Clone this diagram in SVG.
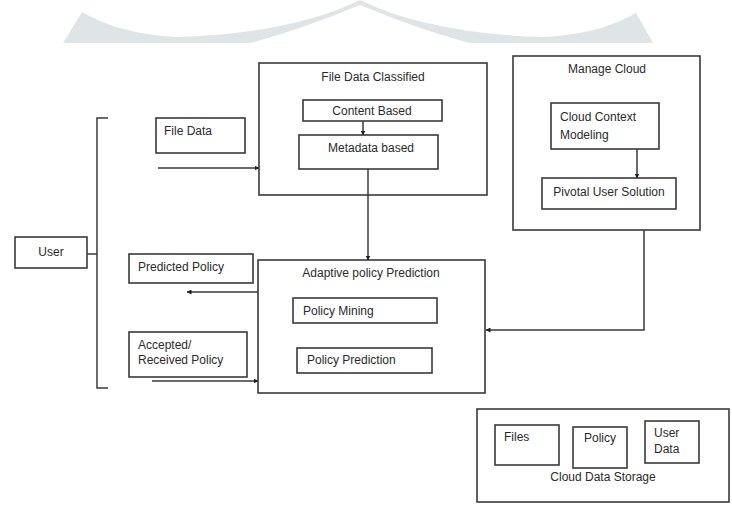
<svg xmlns="http://www.w3.org/2000/svg" width="732" height="509" viewBox="0 0 732 509">
<defs>
<style>
.box{fill:#fff;stroke:#3a3a3a;stroke-width:1.6}
.ln{fill:none;stroke:#3a3a3a;stroke-width:1.5}
text{font-family:"Liberation Sans",Arial,sans-serif;font-size:12px;fill:#2a2a2a}
.c{text-anchor:middle}
</style>
<marker id="ah" viewBox="0 0 10 10" refX="9" refY="5" markerWidth="5" markerHeight="5" orient="auto" markerUnits="userSpaceOnUse">
<path d="M0,0 L10,5 L0,10 z" fill="#222"/>
</marker>
</defs>
<rect width="732" height="509" fill="#fff"/>
<path id="watermark" d="M63,43 L82,12 Q120,34 175,37 Q290,34 360,0 Q430,34 545,37 Q600,34 636,13 L653,43 L470,43 Q420,30 360,5 Q300,30 250,43 Z" fill="#dfe4e7"/>
<g id="user"><rect class="box" x="15" y="237" width="72" height="31"/><text class="c" x="51" y="256">User</text></g>
<g id="file-data"><rect class="box" x="156" y="118" width="89" height="35"/><text x="164" y="135">File Data</text></g>
<g id="file-data-classified"><rect class="box" x="259" y="63" width="228" height="132"/><text class="c" x="373" y="81">File Data Classified</text></g>
<g id="content-based"><rect class="box" x="303" y="100" width="139" height="21"/><text class="c" x="372" y="115">Content Based</text></g>
<g id="metadata-based"><rect class="box" x="299" y="135" width="139" height="34"/><text class="c" x="371" y="152">Metadata based</text></g>
<g id="manage-cloud"><rect class="box" x="513" y="56" width="187" height="174"/><text class="c" x="607" y="73">Manage Cloud</text></g>
<g id="cloud-context-modeling"><rect class="box" x="551" y="103" width="108" height="46"/><text x="560" y="121">Cloud Context</text><text x="560" y="139">Modeling</text></g>
<g id="pivotal-user-solution"><rect class="box" x="542" y="178" width="134" height="31"/><text class="c" x="609" y="196">Pivotal User Solution</text></g>
<g id="predicted-policy"><rect class="box" x="129" y="254" width="124" height="29"/><text x="138" y="271">Predicted Policy</text></g>
<g id="accepted-policy"><rect class="box" x="129" y="332" width="118" height="45"/><text x="138" y="349">Accepted/</text><text x="138" y="364">Received Policy</text></g>
<g id="adaptive-policy-prediction"><rect class="box" x="258" y="260" width="227" height="133"/><text class="c" x="371" y="277">Adaptive policy Prediction</text></g>
<g id="policy-mining"><rect class="box" x="293" y="298" width="144" height="25"/><text x="303" y="315">Policy Mining</text></g>
<g id="policy-prediction"><rect class="box" x="297" y="348" width="135" height="25"/><text x="307" y="364">Policy Prediction</text></g>
<g id="cloud-data-storage"><rect class="box" x="477" y="409" width="252" height="93"/><text class="c" x="603" y="481">Cloud Data Storage</text></g>
<g id="files"><rect class="box" x="495" y="425" width="64" height="40"/><text x="504" y="441">Files</text></g>
<g id="policy"><rect class="box" x="573" y="427" width="54" height="41"/><text class="c" x="600" y="442">Policy</text></g>
<g id="user-data"><rect class="box" x="645" y="421" width="54" height="42"/><text x="654" y="437">User</text><text x="654" y="453">Data</text></g>
<g id="connectors">
<path class="ln" d="M108,118 H97 V388 H108 M87,254 H97"/>
<line class="ln" x1="158" y1="168" x2="259" y2="168" marker-end="url(#ah)"/>
<line class="ln" x1="363" y1="121" x2="363" y2="135" marker-end="url(#ah)"/>
<line class="ln" x1="368" y1="169" x2="368" y2="260" marker-end="url(#ah)"/>
<line class="ln" x1="637" y1="149" x2="637" y2="178" marker-end="url(#ah)"/>
<path class="ln" d="M644,230 V330 H486" marker-end="url(#ah)"/>
<line class="ln" x1="258" y1="292" x2="187" y2="292" marker-end="url(#ah)"/>
<line class="ln" x1="152" y1="381" x2="258" y2="381" marker-end="url(#ah)"/>
</g>
</svg>
